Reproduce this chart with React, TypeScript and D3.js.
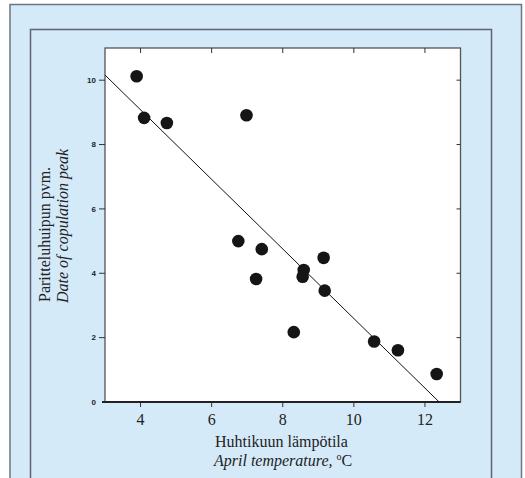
import React from 'react';
import * as d3 from 'd3';

// April temperature (°C) vs date of copulation peak
const aprilTemp = [3.89, 4.1, 4.74, 6.98, 6.75, 7.41, 7.25, 9.15, 8.59, 8.56, 9.18, 8.31, 10.57, 11.24, 12.33];
const peakDate = [10.12, 8.83, 8.67, 8.91, 5.0, 4.75, 3.82, 4.48, 4.1, 3.89, 3.46, 2.17, 1.88, 1.61, 0.87];

// fitted line end points
const fitX = [3, 12.4];
const fitY = [10.16, 0];

const xTicks = [4, 6, 8, 10, 12];
const yTicks = [0, 2, 4, 6, 8, 10];

const W = 525;
const H = 478;
const bg = '#d5eaf9';

const App = () => {
    const margin = { top: 48, right: 64.5, bottom: 76, left: 105 };
    const x = d3.scaleLinear().domain([3, 13]).range([margin.left, W - margin.right]);
    const y = d3.scaleLinear().domain([0, 11]).range([H - margin.bottom, margin.top]);

    const x0 = x.range()[0], x1 = x.range()[1];
    const y0 = y.range()[0], y1 = y.range()[1];

    const points = aprilTemp.map((t, i) => ({ t, d: peakDate[i] }));
    const line = d3.line<number>().x((_, i) => x(fitX[i])).y((v) => y(v));

    return (
        <svg width={W} height={H} style={{ position: 'absolute', left: 0, top: 0, display: 'block' }}>
            <rect x={0} y={0} width={W} height={H} fill="#fff" />
            {/* outer and inner frames */}
            <rect x={10} y={4.5} width={511.5} height={H + 20} fill={bg} stroke="#6b7682" strokeWidth={1.5} />
            <rect x={30.5} y={29.5} width={461} height={H + 20} fill={bg} stroke="#5d6670" strokeWidth={1.5} />

            {/* plot area */}
            <rect x={x0} y={y1} width={x1 - x0} height={y0 - y1} fill="#fff" stroke="#555" strokeWidth={1.3} />

            <defs>
                <clipPath id="plotClip">
                    <rect x={x0} y={y1} width={x1 - x0} height={y0 - y1} />
                </clipPath>
            </defs>

            {/* ticks */}
            {xTicks.map(t => (
                <g key={'x' + t}>
                    <line x1={x(t)} x2={x(t)} y1={y0} y2={y0 + 5} stroke="#333" strokeWidth={1} />
                    <line x1={x(t)} x2={x(t)} y1={y1} y2={y1 + 5} stroke="#333" strokeWidth={1} />
                    <text x={x(t)} y={425} textAnchor="middle" fontFamily="Liberation Serif, Times New Roman, serif" fontSize={16} fill="#222">{t}</text>
                </g>
            ))}
            {yTicks.map(t => (
                <g key={'y' + t}>
                    {t > 0 && <line x1={x0 - 6} x2={x0} y1={y(t)} y2={y(t)} stroke="#333" strokeWidth={1} />}
                    {t > 0 && <line x1={x1 - 4} x2={x1} y1={y(t)} y2={y(t)} stroke="#333" strokeWidth={1} />}
                    <text x={96} y={y(t)} dy="0.35em" textAnchor="end" fontFamily="Liberation Sans, Arial, sans-serif" fontWeight="bold" fontSize={8} fill="#222">{t}</text>
                </g>
            ))}

            {/* bottom axis line */}
            <line x1={x0 - 3} x2={x1} y1={y0} y2={y0} stroke="#222" strokeWidth={1.8} />

            {/* regression line */}
            <path d={line(fitY) || ''} fill="none" stroke="#111" strokeWidth={1} clipPath="url(#plotClip)" />

            {/* dots */}
            {points.map((p, i) => (
                <circle key={i} cx={x(p.t)} cy={y(p.d)} r={6.3} fill="#151515" />
            ))}

            {/* x axis title */}
            <text x={215} y={446.5} fontFamily="Liberation Serif, Times New Roman, serif" fontSize={16} fill="#222">Huhtikuun lämpötila</text>
            <text x={214} y={466} fontFamily="Liberation Serif, Times New Roman, serif" fontSize={16} fontStyle="italic" fill="#222">
                April temperature, <tspan fontStyle="normal" fontSize={10} dy={-6}>o</tspan><tspan fontStyle="normal" dy={6}>C</tspan>
            </text>

            {/* y axis title */}
            <text transform="translate(50,302) rotate(-90)" fontFamily="Liberation Serif, Times New Roman, serif" fontSize={16} fill="#222">Paritteluhuipun pvm.</text>
            <text transform="translate(68,303) rotate(-90)" fontFamily="Liberation Serif, Times New Roman, serif" fontSize={16} fontStyle="italic" fill="#222">Date of copulation peak</text>
        </svg>
    );
};

export default App;
